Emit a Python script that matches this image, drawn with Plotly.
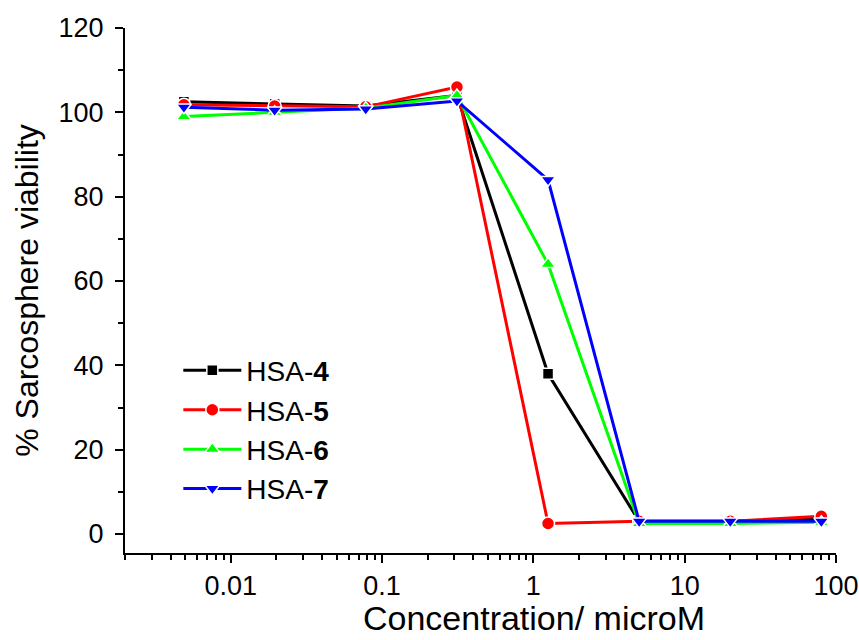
import plotly.graph_objects as go

# Concentrations (µM), four-fold serial dilution
conc = [0.0049, 0.0195, 0.078, 0.3125, 1.25, 5, 20, 80]

# % sarcosphere viability for each compound
hsa4 = [102.5, 102.0, 101.5, 104.0, 38.0, 3.0, 3.0, 3.7]
hsa5 = [101.8, 101.5, 101.3, 106.0, 2.5, 3.0, 3.0, 4.2]
hsa6 = [99.0, 100.0, 101.0, 104.0, 64.0, 2.5, 2.5, 2.8]
hsa7 = [101.2, 100.5, 100.8, 102.7, 84.0, 3.0, 3.0, 3.0]

names = ["HSA-<b>4</b>", "HSA-<b>5</b>", "HSA-<b>6</b>", "HSA-<b>7</b>"]
series = [hsa4, hsa5, hsa6, hsa7]
colors = ["#000000", "#ff0000", "#00ff00", "#0000ff"]
symbols = ["square", "circle", "triangle-up", "triangle-down"]
marker_sizes = [11, 13, 13, 13]

x_tickvals = [0.01, 0.1, 1, 10, 100]
x_ticktext = ["0.01", "0.1", "1", "10", "100"]

fig = go.Figure()
for name, vals, col, sym, ms in zip(names, series, colors, symbols, marker_sizes):
    fig.add_trace(go.Scatter(
        x=conc, y=vals, name=name, mode="lines+markers",
        line=dict(color=col, width=3),
        marker=dict(symbol=sym, size=ms, color=col,
                    line=dict(color="white", width=1.5)),
    ))

font_family = "Liberation Sans, Arial, sans-serif"

fig.update_layout(
    width=859, height=640,
    margin=dict(l=125, r=23, t=28, b=87),
    plot_bgcolor="white", paper_bgcolor="white",
    font=dict(family=font_family, size=27, color="black"),
    showlegend=True,
    legend=dict(
        x=0.075, y=0.395, xanchor="left", yanchor="top",
        bgcolor="rgba(0,0,0,0)", font=dict(size=28),
        tracegroupgap=0, itemwidth=58,
    ),
    xaxis=dict(
        type="log", range=[-2.699, 2],
        tickvals=x_tickvals, ticktext=x_ticktext,
        ticks="outside", ticklen=8, tickwidth=2, tickcolor="black",
        showline=True, linecolor="black", linewidth=2,
        showgrid=False, zeroline=False, automargin=False,
        minor=dict(ticks="outside", ticklen=5, tickwidth=1.5,
                   tickcolor="black", dtick="D1", showgrid=False),
        tickfont=dict(size=27),
    ),
    yaxis=dict(
        range=[-4.5, 120], tickvals=[0, 20, 40, 60, 80, 100, 120],
        ticks="outside", ticklen=8, tickwidth=2, tickcolor="black",
        showline=True, linecolor="black", linewidth=2,
        showgrid=False, zeroline=False, automargin=False,
        ticklabelstandoff=6,
        minor=dict(ticks="outside", ticklen=5, tickwidth=1.5,
                   tickcolor="black", dtick=10, showgrid=False),
        title=dict(text="% Sarcosphere viability", font=dict(size=32), standoff=10),
        tickfont=dict(size=27),
    ),
    annotations=[dict(
        text="Concentration/ microM", xref="paper", yref="paper",
        x=0.575, y=-0.124, xanchor="center", yanchor="middle",
        showarrow=False, font=dict(size=34),
    )],
)

fig.write_html("out.html")
